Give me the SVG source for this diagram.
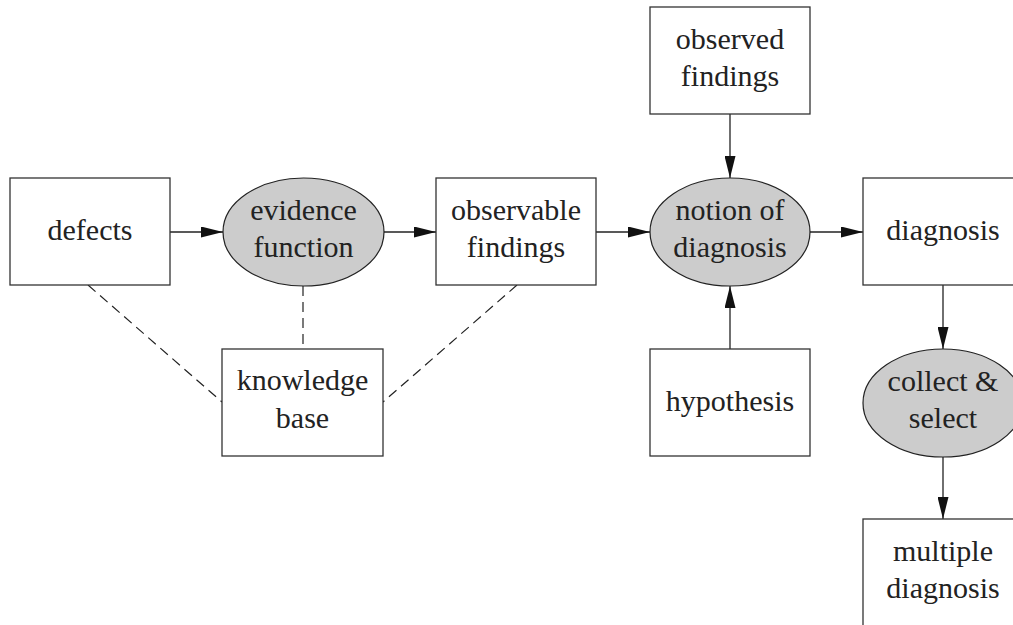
<svg xmlns="http://www.w3.org/2000/svg" width="1013" height="625" viewBox="0 0 1013 625">
  <style>
    .box { fill: #ffffff; stroke: #333333; stroke-width: 1.3; }
    .proc { fill: #cccccc; stroke: #222222; stroke-width: 1.2; }
    .arrow { stroke: #222222; stroke-width: 1.3; fill: none; marker-end: url(#head); }
    .dash { stroke: #222222; stroke-width: 1.2; fill: none; stroke-dasharray: 10 6; }
  </style>
  <defs>
    <marker id="head" viewBox="0 0 22 11" markerWidth="22" markerHeight="11" refX="22" refY="5.5" orient="auto" markerUnits="userSpaceOnUse">
      <path d="M0,0 L22,5.5 L0,11 Z" fill="#111111"/>
    </marker>
  </defs>
  <rect width="1013" height="625" fill="#ffffff"/>

  <!-- connectors -->
  <g id="connectors">
    <line class="arrow" x1="170" y1="232" x2="223" y2="232"/>
    <line class="arrow" x1="384" y1="232" x2="436" y2="232"/>
    <line class="arrow" x1="596" y1="232" x2="650" y2="232"/>
    <line class="arrow" x1="810" y1="232" x2="863" y2="232"/>
    <line class="arrow" x1="730" y1="114" x2="730" y2="178"/>
    <line class="arrow" x1="730" y1="349" x2="730" y2="286"/>
    <line class="arrow" x1="943" y1="285" x2="943" y2="349"/>
    <line class="arrow" x1="943" y1="457" x2="943" y2="519"/>
    <line class="dash" x1="303" y1="286" x2="303" y2="349"/>
    <line class="dash" x1="88" y1="285" x2="222" y2="402"/>
    <line class="dash" x1="517" y1="285" x2="383" y2="402"/>
  </g>

  <!-- nodes -->
  <g id="defects">
    <rect class="box" x="10" y="178" width="160" height="107"/>
    <text x="90" y="240" font-family="Liberation Serif" font-size="30" fill="#222222" text-anchor="middle">defects</text>
  </g>
  <g id="evidence-function">
    <ellipse class="proc" cx="303.5" cy="232" rx="80.5" ry="54"/>
    <text x="303.5" y="220" font-family="Liberation Serif" font-size="30" fill="#222222" text-anchor="middle">evidence</text>
    <text x="303.5" y="257" font-family="Liberation Serif" font-size="30" fill="#222222" text-anchor="middle">function</text>
  </g>
  <g id="observable-findings">
    <rect class="box" x="436" y="178" width="160" height="107"/>
    <text x="516" y="220" font-family="Liberation Serif" font-size="30" fill="#222222" text-anchor="middle">observable</text>
    <text x="516" y="257" font-family="Liberation Serif" font-size="30" fill="#222222" text-anchor="middle">findings</text>
  </g>
  <g id="notion-of-diagnosis">
    <ellipse class="proc" cx="730" cy="232" rx="80" ry="54"/>
    <text x="730" y="220" font-family="Liberation Serif" font-size="30" fill="#222222" text-anchor="middle">notion of</text>
    <text x="730" y="257" font-family="Liberation Serif" font-size="30" fill="#222222" text-anchor="middle">diagnosis</text>
  </g>
  <g id="diagnosis">
    <rect class="box" x="863" y="178" width="160" height="107"/>
    <text x="943" y="240" font-family="Liberation Serif" font-size="30" fill="#222222" text-anchor="middle">diagnosis</text>
  </g>
  <g id="observed-findings">
    <rect class="box" x="650" y="7" width="160" height="107"/>
    <text x="730" y="49" font-family="Liberation Serif" font-size="30" fill="#222222" text-anchor="middle">observed</text>
    <text x="730" y="86" font-family="Liberation Serif" font-size="30" fill="#222222" text-anchor="middle">findings</text>
  </g>
  <g id="hypothesis">
    <rect class="box" x="650" y="349" width="160" height="107"/>
    <text x="730" y="411" font-family="Liberation Serif" font-size="30" fill="#222222" text-anchor="middle">hypothesis</text>
  </g>
  <g id="knowledge-base">
    <rect class="box" x="222" y="349" width="161" height="107"/>
    <text x="302.5" y="390" font-family="Liberation Serif" font-size="30" fill="#222222" text-anchor="middle">knowledge</text>
    <text x="302.5" y="428" font-family="Liberation Serif" font-size="30" fill="#222222" text-anchor="middle">base</text>
  </g>
  <g id="collect-select">
    <ellipse class="proc" cx="943" cy="403" rx="80" ry="54"/>
    <text x="943" y="391" font-family="Liberation Serif" font-size="30" fill="#222222" text-anchor="middle">collect &amp;</text>
    <text x="943" y="428" font-family="Liberation Serif" font-size="30" fill="#222222" text-anchor="middle">select</text>
  </g>
  <g id="multiple-diagnosis">
    <rect class="box" x="863" y="519" width="160" height="107"/>
    <text x="943" y="561" font-family="Liberation Serif" font-size="30" fill="#222222" text-anchor="middle">multiple</text>
    <text x="943" y="598" font-family="Liberation Serif" font-size="30" fill="#222222" text-anchor="middle">diagnosis</text>
  </g>
</svg>
